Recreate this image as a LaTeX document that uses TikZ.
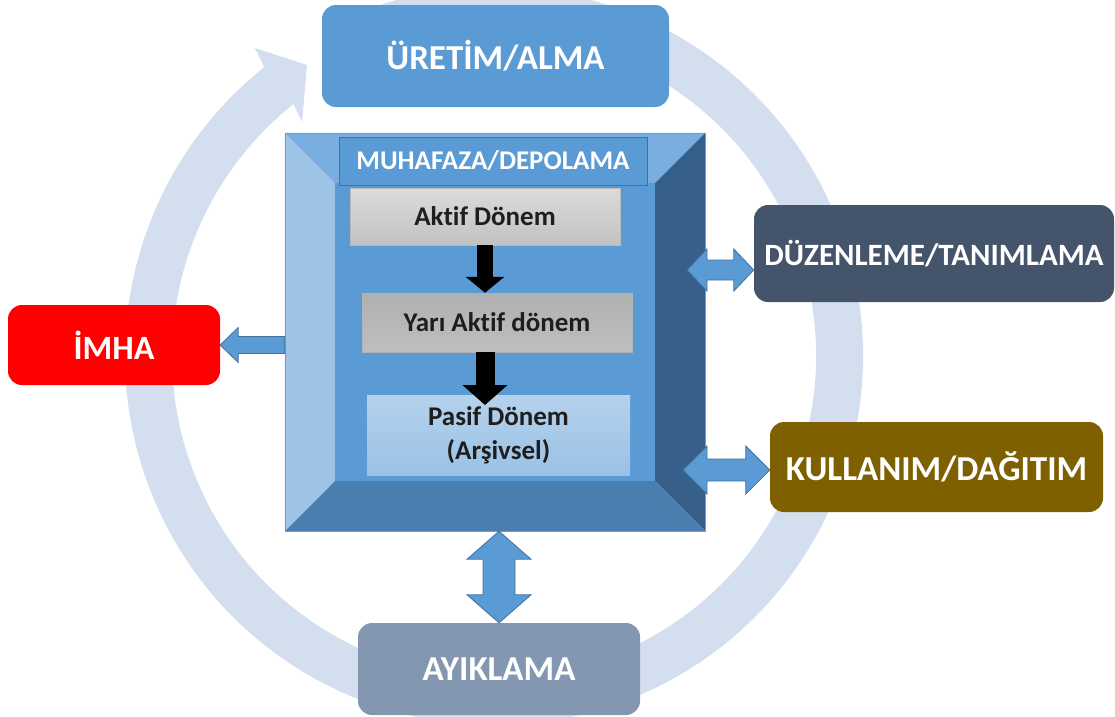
\documentclass[tikz,border=0pt]{standalone}
\usepackage{fontspec}
\setmainfont{Carlito}[Ligatures=NoCommon]
\usetikzlibrary{calc,arrows.meta}
\definecolor{ringc}{HTML}{D3DEEF}
\definecolor{officeblue}{HTML}{5B9BD5}
\definecolor{blueedge}{HTML}{41719C}
\definecolor{bevL}{HTML}{9DC3E6}
\definecolor{bevT}{HTML}{7BAEE0}
\definecolor{bevR}{HTML}{365F8A}
\definecolor{bevB}{HTML}{4A7EAE}
\definecolor{duzc}{HTML}{44546A}
\definecolor{kulc}{HTML}{7F6000}
\definecolor{imhac}{HTML}{FF0000}
\definecolor{aykc}{HTML}{8497B0}
\definecolor{txtdark}{HTML}{1E1E1E}
\newcommand\myHArrow[5]{%
\draw[blockarrow] let \p1=(#1), \p2=(#2) in
 (\x1,\y1) -- (\x1+#5pt,\y1+#3pt) -- (\x1+#5pt,\y1+#4pt) -- (\x2-#5pt,\y1+#4pt) -- (\x2-#5pt,\y1+#3pt) -- (\x2,\y1)
 -- (\x2-#5pt,\y1-#3pt) -- (\x2-#5pt,\y1-#4pt) -- (\x1+#5pt,\y1-#4pt) -- (\x1+#5pt,\y1-#3pt) -- cycle;}
\newcommand\myVArrow[5]{%
\draw[blockarrow] let \p1=(#1), \p2=(#2) in
 (\x1,\y1) -- (\x1+#3pt,\y1-#5pt) -- (\x1+#4pt,\y1-#5pt) -- (\x1+#4pt,\y2+#5pt) -- (\x1+#3pt,\y2+#5pt) -- (\x1,\y2)
 -- (\x1-#3pt,\y2+#5pt) -- (\x1-#4pt,\y2+#5pt) -- (\x1-#4pt,\y1-#5pt) -- (\x1-#3pt,\y1-#5pt) -- cycle;}
\begin{document}
\begin{tikzpicture}[x=1pt,y=1pt,
  outerbox/.style={rounded corners=14pt, text=white, inner sep=0pt, align=center,
    font=\bfseries\fontsize{35}{40}\selectfont},
  innerbox/.style={inner sep=0pt, align=center, text=txtdark,
    font=\bfseries\fontsize{27}{34}\selectfont},
  blockarrow/.style={fill=officeblue, draw=blueedge, line width=0.8pt, line join=miter},
  blkarrow/.style={draw=black, line width=16pt, -{Triangle[width=38pt,length=16pt]}}]
\useasboundingbox (0,0) rectangle (1115,-716);
% ring
\draw[ringc, line width=47pt] (494,-356) ++(110:345.5) arc[start angle=110, end angle=-231.5, radius=345.5];
\fill[ringc] (264.3,-67.2) -- (255,-48) -- (307,-65) -- (302,-122) -- (293.6,-104) -- cycle;
% outer boxes
\node[outerbox, fill=officeblue, minimum width=347pt, minimum height=102pt] (ure) at (495.5,-56) {ÜRETİM/ALMA};
\node[outerbox, fill=duzc, minimum width=360pt, minimum height=97pt, font=\bfseries\fontsize{31}{36}\selectfont] (duz) at (934,-253.5) {DÜZENLEME/TANIMLAMA};
\node[outerbox, fill=kulc, minimum width=333pt, minimum height=90pt] (kul) at (936.5,-467) {KULLANIM/DAĞITIM};
\node[outerbox, fill=imhac, minimum width=212pt, minimum height=80pt, font=\bfseries\fontsize{34}{38}\selectfont] (imha) at (114,-345) {İMHA};
\node[outerbox, fill=aykc, minimum width=282pt, minimum height=92pt] (ayk) at (499,-669) {AYIKLAMA};
% storage block with bevel
\node[minimum width=420pt, minimum height=398pt, inner sep=0pt] (muh) at (495,-332) {};
\node[minimum width=320pt, minimum height=298pt, inner sep=0pt, fill=officeblue] (muhin) at (495,-332) {};
\fill[bevL] (muh.north west) -- (muhin.north west) -- (muhin.south west) -- (muh.south west) -- cycle;
\fill[bevT] (muh.north west) -- (muh.north east) -- (muhin.north east) -- (muhin.north west) -- cycle;
\fill[bevR] (muh.north east) -- (muh.south east) -- (muhin.south east) -- (muhin.north east) -- cycle;
\fill[bevB] (muh.south west) -- (muhin.south west) -- (muhin.south east) -- (muh.south east) -- cycle;
\draw[blueedge!70, line width=0.6pt] (muh.north west) rectangle (muh.south east);
\node[fill=officeblue, draw=blueedge, line width=0.8pt, minimum width=308pt, minimum height=48pt, inner sep=0pt,
  text=white, font=\bfseries\fontsize{27}{30}\selectfont] (muhl) at (493,-161) {MUHAFAZA/DEPOLAMA};
\node[innerbox, top color=gray!28, bottom color=gray!48, draw=gray!55, line width=0.5pt, minimum width=270pt, minimum height=57pt] (akt) at (485,-216.5) {Aktif Dönem};
\node[innerbox, top color=gray!62, bottom color=gray!98!white!52, draw=gray!60, line width=0.5pt, minimum width=270pt, minimum height=59pt] (yar) at (497,-322.5) {Yarı Aktif dönem};
\node[innerbox, top color=bevL!75, bottom color=bevL!95!officeblue, minimum width=263pt, minimum height=80pt] (pas) at (498.5,-435) {Pasif Dönem\\(Arşivsel)};
% black flow arrows
\coordinate (b2) at (485,-405);
\draw[blkarrow] (akt.south) -- (akt.south |- yar.north);
\draw[blkarrow, line width=19pt, -{Triangle[width=44pt,length=20pt]}] (akt.south |- yar.south) -- (b2);
% blue block arrows
\coordinate (dzL) at (687,-270);
\coordinate (kuL) at (683,-470);
\myHArrow{dzL}{duz.west |- dzL}{21}{10}{20}
\myHArrow{kuL}{kul.west |- kuL}{24}{11}{24}
\draw[blockarrow] let \p1=(imha.east), \p2=(muh.west |- imha.east) in
 (\p1) -- (\x1+18pt,\y1+17.5pt) -- (\x1+18pt,\y1+8.5pt) -- (\x2,\y1+8.5pt) -- (\x2,\y1-8.5pt) -- (\x1+18pt,\y1-8.5pt) -- (\x1+18pt,\y1-17.5pt) -- cycle;
\myVArrow{muh.south -| ayk.north}{ayk.north}{32}{16}{28}
\end{tikzpicture}
\end{document}
